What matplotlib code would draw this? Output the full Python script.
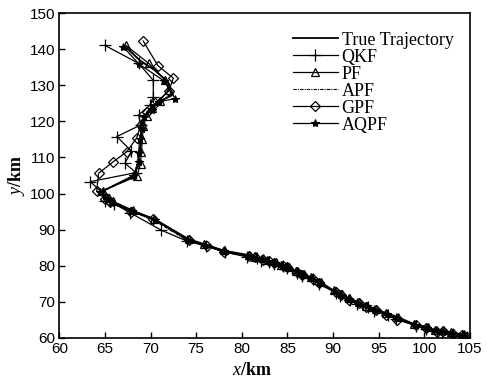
import matplotlib
matplotlib.use("Agg")
import matplotlib.pyplot as plt

plt.rcParams['mathtext.fontset'] = 'custom'
plt.rcParams['mathtext.rm'] = 'Liberation Serif'
plt.rcParams['mathtext.it'] = 'Liberation Serif:italic'
plt.rcParams['mathtext.bf'] = 'Liberation Serif:bold'

# True trajectory
true_x = [67.2, 68.8, 70.4, 71.9, 72.3, 70.8, 70.0, 69.4, 68.9, 69.0, 68.8, 68.6, 68.2, 64.6,
          65.2, 65.8, 68.0, 70.5, 74.1, 76.0, 78.0, 80.7, 81.6, 82.2, 82.9, 83.6, 84.4, 85.1, 86.0, 86.7, 87.7, 88.6,
          90.2, 90.9, 91.8, 92.7, 93.7, 94.6, 95.9, 97.0, 99.0, 100.3, 101.3, 102.0, 103.0, 104.2, 104.6]
true_y = [140.8, 137.0, 134.3, 131.0, 127.2, 125.3, 123.5, 121.5, 118.3, 115.0, 111.5, 108.3, 105.0, 100.5,
          98.5, 97.5, 95.0, 92.8, 87.1, 85.7, 84.0, 82.7, 82.2, 81.7, 81.3, 80.6, 80.0, 79.4, 78.3, 77.4, 76.5, 75.1,
          72.8, 71.8, 70.7, 69.6, 68.6, 67.7, 66.6, 65.5, 63.5, 62.7, 61.9, 61.7, 61.2, 60.7, 60.3]

# QKF
qkf_x = [65.0, 68.7, 70.3, 70.3, 69.9, 68.7, 68.9, 66.3, 67.9, 67.2, 68.4, 63.4, 64.8,
         65.0, 66.0, 67.8, 71.2, 74.0, 76.1, 78.2, 80.6, 81.7, 82.1, 83.0, 83.5, 84.5, 85.0, 86.1, 86.6, 87.8, 88.5,
         90.3, 90.8, 91.9, 92.6, 93.8, 94.5, 96.0, 96.9, 99.1, 100.2, 101.4, 101.9, 103.1, 104.1, 104.7]
qkf_y = [141.1, 136.1, 131.4, 126.8, 124.5, 121.8, 119.0, 115.8, 111.8, 108.4, 105.8, 103.3, 100.0,
         98.0, 97.2, 94.6, 89.8, 86.8, 85.4, 83.7, 82.4, 82.0, 81.4, 81.0, 80.4, 79.8, 79.2, 78.0, 77.1, 76.2, 74.8,
         72.5, 71.6, 70.4, 69.3, 68.4, 67.5, 66.3, 65.2, 63.3, 62.4, 61.7, 61.4, 61.0, 60.4, 60.2]

# PF
pf_x = [67.3, 69.8, 71.6, 72.0, 71.0, 70.2, 69.6, 69.2, 69.1, 69.0, 68.9, 68.5, 64.8,
        65.4, 65.9, 68.1, 70.4, 74.2, 75.9, 78.1, 80.8, 81.5, 82.3, 82.8, 83.7, 84.3, 85.2, 85.9, 86.8, 87.6, 88.7,
        90.1, 91.0, 91.7, 92.8, 93.6, 94.7, 95.8, 97.1, 98.9, 100.4, 101.2, 102.1, 102.9, 104.3, 104.5]
pf_y = [141.1, 136.1, 131.5, 128.7, 125.8, 123.8, 121.6, 118.6, 115.0, 111.6, 108.2, 104.8, 100.8,
        98.8, 97.8, 95.3, 93.0, 87.4, 86.0, 84.2, 83.0, 82.5, 82.0, 81.6, 80.9, 80.3, 79.7, 78.6, 77.7, 76.8, 75.4,
        73.1, 72.1, 71.0, 69.9, 68.9, 68.0, 66.9, 65.8, 63.8, 63.0, 62.2, 62.0, 61.5, 61.0, 60.6]

# APF
apf_x = [67.4, 68.9, 70.6, 72.0, 72.2, 70.7, 70.1, 69.5, 68.8, 69.1, 68.7, 68.5, 68.3, 64.7,
         65.1, 65.7, 68.2, 70.6, 74.0, 76.0, 77.9, 80.6, 81.6, 82.2, 82.9, 83.6, 84.4, 85.1, 86.0, 86.7, 87.7, 88.6,
         90.2, 90.9, 91.8, 92.7, 93.7, 94.6, 95.9, 97.0, 99.0, 100.3, 101.3, 102.0, 103.0, 104.2, 104.6]
apf_y = [140.6, 136.8, 134.0, 130.8, 127.4, 125.1, 123.6, 121.3, 118.5, 114.8, 111.3, 108.5, 104.8, 100.7,
         98.3, 97.3, 94.8, 92.2, 87.0, 85.6, 83.9, 82.6, 82.1, 81.6, 81.2, 80.5, 79.9, 79.3, 78.2, 77.3, 76.4, 75.0,
         72.7, 71.7, 70.6, 69.5, 68.5, 67.6, 66.5, 65.4, 63.4, 62.6, 61.8, 61.6, 61.1, 60.6, 60.2]

# GPF
gpf_x = [69.2, 70.8, 72.5, 72.0, 70.5, 69.6, 68.9, 68.5, 67.4, 65.9, 64.3, 64.1,
         65.0, 65.6, 67.9, 70.3, 74.2, 76.2, 78.0, 80.8, 81.5, 82.3, 83.0, 83.5, 84.5, 85.0, 86.1, 86.6, 87.8, 88.5,
         90.3, 90.9, 91.7, 92.8, 93.6, 94.7, 95.8, 97.0, 99.1, 100.2, 101.4, 102.0, 103.1, 104.1, 104.7]
gpf_y = [142.3, 135.5, 132.0, 128.5, 125.0, 122.7, 119.0, 115.5, 111.6, 108.8, 105.6, 100.6,
         98.6, 97.6, 95.0, 93.0, 87.0, 85.5, 83.8, 82.6, 82.3, 81.5, 81.2, 80.7, 79.8, 79.5, 78.1, 77.5, 76.3, 75.2,
         72.6, 71.9, 70.5, 69.7, 68.4, 67.8, 66.4, 65.0, 63.4, 62.8, 61.7, 61.8, 61.0, 60.8, 60.2]

# AQPF
aqpf_x = [67.0, 68.7, 71.5, 72.7, 70.9, 70.2, 69.3, 69.1, 68.8, 68.7, 68.7, 68.1, 64.5,
          65.3, 65.8, 68.0, 70.5, 74.1, 76.0, 78.0, 80.7, 81.6, 82.2, 82.9, 83.6, 84.4, 85.1, 86.0, 86.7, 87.7, 88.6,
          90.2, 90.9, 91.8, 92.7, 93.7, 94.6, 95.9, 97.0, 99.0, 100.3, 101.3, 102.0, 103.0, 104.2, 104.6]
aqpf_y = [140.7, 136.0, 131.2, 126.3, 125.5, 123.3, 121.3, 118.0, 115.2, 111.3, 108.7, 104.9, 100.3,
          98.4, 97.5, 95.1, 92.7, 87.2, 85.8, 84.0, 82.8, 82.2, 81.8, 81.3, 80.7, 80.1, 79.4, 78.4, 77.4, 76.6, 75.1,
          72.9, 71.8, 70.8, 69.6, 68.7, 67.7, 66.7, 65.5, 63.6, 62.7, 62.0, 61.7, 61.3, 60.7, 60.4]

labels = ['True Trajectory', 'QKF', 'PF', 'APF', 'GPF', 'AQPF']
x_ticks = [60, 65, 70, 75, 80, 85, 90, 95, 100, 105]
y_ticks = [60, 70, 80, 90, 100, 110, 120, 130, 140, 150]

fig = plt.figure(figsize=(4.88, 3.80), dpi=100)
ax = fig.add_axes([0.1215, 0.1113, 0.8415, 0.8537])

lw = 0.9
ax.plot(true_x, true_y, '-', color='black', lw=1.3, label=labels[0])
ax.plot(qkf_x, qkf_y, '-', color='black', lw=lw, marker='+', ms=8, mew=0.9, label=labels[1])
ax.plot(pf_x, pf_y, '-', color='black', lw=lw, marker='^', ms=5.5, mfc='none', mew=0.9, label=labels[2])
ax.plot(apf_x, apf_y, color='black', lw=0.8, ls=(0, (3, 1, 1, 1)), label=labels[3])
ax.plot(gpf_x, gpf_y, '-', color='black', lw=lw, marker='D', ms=5, mfc='none', mew=0.9, label=labels[4])
ax.plot(aqpf_x, aqpf_y, '-', color='black', lw=lw, marker='*', ms=6, mew=0.8, label=labels[5])

ax.set_xlim(60, 105)
ax.set_ylim(60, 150)
ax.set_xticks(x_ticks)
ax.set_yticks(y_ticks)
ax.tick_params(direction='in', length=4, width=1, top=False, right=False, labelsize=11, pad=3)
for lab in ax.get_xticklabels() + ax.get_yticklabels():
    lab.set_fontfamily('Liberation Sans')
for sp in ax.spines.values():
    sp.set_linewidth(1.2)

ax.set_xlabel(r'$x$/km', fontfamily='Liberation Serif', fontsize=13, fontweight='bold', labelpad=0)
ax.xaxis.set_label_coords(0.47, -0.075)
ax.set_ylabel(r'$y$/km', fontfamily='Liberation Serif', fontsize=13, fontweight='bold', labelpad=2)

leg = ax.legend(loc='upper left', bbox_to_anchor=(0.56, 0.955), frameon=False,
                prop={'family': 'Liberation Serif', 'size': 13},
                handlelength=2.5, handletextpad=0.2, labelspacing=0.0, borderaxespad=0.0,
                borderpad=0.2)

fig.savefig('out.png', dpi=100)
